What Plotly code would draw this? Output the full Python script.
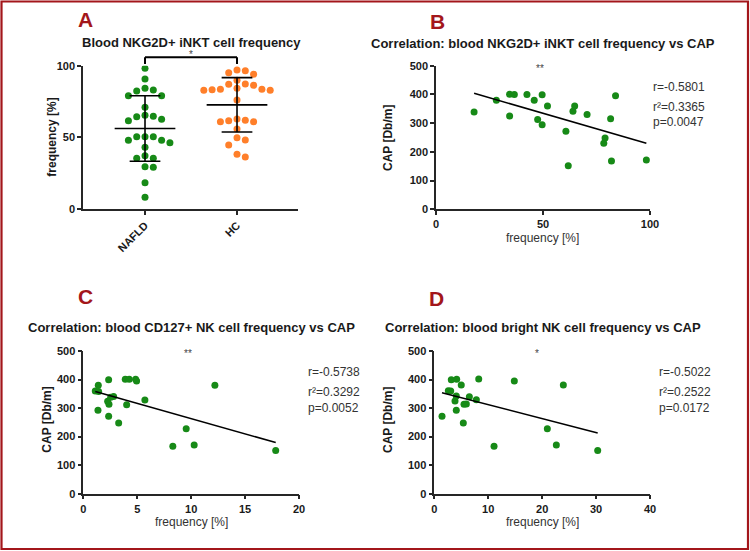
import numpy as np
import plotly.graph_objects as go

W, H = 750, 551

# ---------------- data ----------------
groups = ["NAFLD", "HC"]
nafld_freq = [98.2, 90.7, 84.2, 82.3, 83.0, 79.1, 79.1, 71.0, 65.4, 64.4, 64.7, 62.6, 61.6,
              50.5, 50.5, 50.5, 47.9, 47.9, 46.3, 43.1, 35.4, 35.4, 37.2, 29.1, 29.5, 18.4, 8.2]
hc_freq = [97.0, 96.5, 95.1, 94.0, 89.8, 87.0, 87.2, 86.3, 84.2, 83.5, 82.8, 82.8, 83.2, 83.5,
           76.1, 61.9, 60.9, 61.6, 60.9, 62.8, 55.8, 48.1, 49.8, 44.7, 38.2, 36.3]

b_freq = [17.8, 28.2, 34.4, 36.6, 34.4, 42.5, 45.9, 49.6, 47.5, 49.6, 52.1, 64.0, 64.8, 60.7,
          61.8, 70.6, 79.0, 78.4, 81.6, 83.9, 82.0, 98.3]
b_cap = [339, 380, 401, 400, 325, 400, 380, 399, 313, 294, 360, 341, 360, 272,
         152, 330, 248, 230, 315, 395, 168, 172]

c_freq = [1.39, 1.11, 1.42, 2.35, 1.36, 2.35, 3.28, 2.26, 2.38, 2.54, 2.81, 3.89, 4.26, 4.85,
          4.94, 4.02, 5.71, 12.2, 9.54, 8.3, 10.28, 17.84]
c_cap = [380, 360, 358, 399, 292, 271, 248, 324, 313, 338, 341, 401, 401, 401,
         395, 312, 328, 380, 228, 166, 171, 151]

d_freq = [1.43, 2.6, 3.04, 3.15, 4.15, 5.0, 4.08, 3.84, 4.08, 5.38, 5.51, 5.94, 6.5, 7.8,
          8.24, 11.08, 14.84, 23.93, 20.96, 22.63, 30.3]
d_cap = [271, 361, 360, 399, 401, 381, 342, 325, 292, 248, 313, 314, 340, 329,
         402, 166, 395, 381, 228, 171, 151]

# linear regression fits (slope, intercept) as shown on the chart
b_fit = (-2.16, 442.3)
c_fit = (-10.72, 370.3)
d_fit = (-4.884, 361.0)

b_stats = ["r=-0.5801", "r²=0.3365", "p=0.0047"]
c_stats = ["r=-0.5738", "r²=0.3292", "p=0.0052"]
d_stats = ["r=-0.5022", "r²=0.2522", "p=0.0172"]

# ---------------- styling ----------------
GREEN = "#178a17"
ORANGE = "#ff7f2a"
RED = "#a3161b"
AX = "#262626"
FONT = "Liberation Sans"


def P(px, py):
    return px / W, 1 - py / H


def swarm(vals, ppu_y, ppu_x, diam=7.5, step=8.3):
    vals = np.asarray(vals, float)
    order = np.argsort(-vals, kind="stable")
    placed = []
    offs = np.zeros(len(vals))
    cands = [0.0]
    for m in range(1, 12):
        cands += [m * step, -m * step]
    for i in order:
        yp = vals[i] * ppu_y
        chosen = cands[-1]
        for c in cands:
            if all((c - qx) ** 2 + (yp - qy) ** 2 >= diam ** 2 for qx, qy in placed):
                chosen = c
                break
        placed.append((chosen, yp))
        offs[i] = chosen / ppu_x
    return offs


fig = go.Figure()

# domains (pixel based)
domA = dict(x=[83 / W, 298 / W], y=[1 - 209 / H, 1 - 65.7 / H])
domB = dict(x=[436 / W, 650 / W], y=[1 - 209.3 / H, 1 - 65.7 / H])
domC = dict(x=[83.3 / W, 299 / W], y=[1 - 493.7 / H, 1 - 351 / H])
domD = dict(x=[434.3 / W, 650 / W], y=[1 - 493.7 / H, 1 - 351 / H])

# ---- Panel A ----
ppu_y = (209 - 65.7) / 100.0
ppu_x = 92.0
for gi, (vals, col) in enumerate([(nafld_freq, GREEN), (hc_freq, ORANGE)]):
    offs = swarm(vals, ppu_y, ppu_x)
    fig.add_trace(go.Scatter(x=gi + offs, y=vals, mode="markers",
                             marker=dict(color=col, size=7, line=dict(width=0)),
                             xaxis="x", yaxis="y", showlegend=False, hoverinfo="skip"))
    m = float(np.mean(vals))
    s = float(np.std(vals, ddof=1))
    lw = dict(color="black", width=1.6)
    fig.add_shape(type="line", xref="x", yref="y", x0=gi - 0.33, x1=gi + 0.33, y0=m, y1=m, line=lw)
    fig.add_shape(type="line", xref="x", yref="y", x0=gi - 0.167, x1=gi + 0.167, y0=m + s, y1=m + s, line=lw)
    fig.add_shape(type="line", xref="x", yref="y", x0=gi - 0.167, x1=gi + 0.167, y0=m - s, y1=m - s, line=lw)
    fig.add_shape(type="line", xref="x", yref="y", x0=gi, x1=gi, y0=m - s, y1=m + s, line=lw)

# significance bracket
br = dict(color="black", width=2)
fig.add_shape(type="line", xref="x", yref="y domain", x0=0, x1=1, y0=1.059, y1=1.059, line=br)
fig.add_shape(type="line", xref="x", yref="y domain", x0=0, x1=0, y0=1.059, y1=1.012, line=br)
fig.add_shape(type="line", xref="x", yref="y domain", x0=1, x1=1, y0=1.059, y1=1.012, line=br)

# ---- Panels B, C, D ----
def scatter_panel(xs, ys, fit, xa, ya):
    fig.add_trace(go.Scatter(x=xs, y=ys, mode="markers",
                             marker=dict(color=GREEN, size=7, line=dict(width=0)),
                             xaxis=xa, yaxis=ya, showlegend=False, hoverinfo="skip"))
    x0, x1 = min(xs), max(xs)
    fig.add_trace(go.Scatter(x=[x0, x1], y=[fit[0] * x0 + fit[1], fit[0] * x1 + fit[1]],
                             mode="lines", line=dict(color="black", width=1.6),
                             xaxis=xa, yaxis=ya, showlegend=False, hoverinfo="skip"))


scatter_panel(b_freq, b_cap, b_fit, "x2", "y2")
scatter_panel(c_freq, c_cap, c_fit, "x3", "y3")
scatter_panel(d_freq, d_cap, d_fit, "x4", "y4")

axis_common = dict(showline=True, linecolor=AX, linewidth=1.5, ticks="outside", ticklen=4,
                   tickwidth=1.5, tickcolor=AX, showgrid=False, zeroline=False,
                   automargin=False,
                   tickfont=dict(family=FONT, size=11, color="#1a1a1a", weight="bold"),
                   fixedrange=True)

fig.update_layout(
    width=W, height=H, autosize=False,
    margin=dict(l=0, r=0, t=0, b=0, pad=0, autoexpand=False),
    paper_bgcolor="white", plot_bgcolor="white",
    font=dict(family=FONT),
    xaxis=dict(domain=domA["x"], anchor="y", range=[-0.674, 1.663], tickvals=[0, 1],
               ticktext=groups, tickangle=-45, **axis_common),
    yaxis=dict(domain=domA["y"], anchor="x", range=[0, 100], tickvals=[0, 50, 100], **axis_common),
    xaxis2=dict(domain=domB["x"], anchor="y2", range=[0, 100], tickvals=[0, 50, 100], **axis_common),
    yaxis2=dict(domain=domB["y"], anchor="x2", range=[0, 500], dtick=100, **axis_common),
    xaxis3=dict(domain=domC["x"], anchor="y3", range=[0, 20], dtick=5, **axis_common),
    yaxis3=dict(domain=domC["y"], anchor="x3", range=[0, 500], dtick=100, **axis_common),
    xaxis4=dict(domain=domD["x"], anchor="y4", range=[0, 40], dtick=10, **axis_common),
    yaxis4=dict(domain=domD["y"], anchor="x4", range=[0, 500], dtick=100, **axis_common),
)

ann = []


def text(px, py, t, size=12, bold=False, color="#1a1a1a", angle=0, xanchor="center"):
    x, y = P(px, py)
    ann.append(dict(x=x, y=y, xref="paper", yref="paper", text=t, showarrow=False,
                    xanchor=xanchor, yanchor="middle", textangle=angle,
                    font=dict(family=FONT, size=size, color=color,
                              weight="bold" if bold else "normal")))


# panel letters
text(85, 20, "A", size=21, bold=True, color=RED)
text(437.5, 22, "B", size=21, bold=True, color=RED)
text(85, 296, "C", size=21, bold=True, color=RED)
text(436.5, 299, "D", size=21, bold=True, color=RED)

# titles
text(191, 42.7, "Blood NKG2D+ iNKT cell frequency", size=13, bold=True)
text(542.5, 43.3, "Correlation: blood NKG2D+ iNKT cell frequency vs CAP", size=13, bold=True)
text(191.5, 327.7, "Correlation: blood CD127+ NK cell frequency vs CAP", size=13, bold=True)
text(542.5, 327, "Correlation: blood bright NK cell frequency vs CAP", size=13, bold=True)

# axis titles
text(51.7, 137, "frequency [%]", size=12, bold=True, angle=-90)
text(388, 138, "CAP [Db/m]", size=12, bold=True, angle=-90)
text(542.8, 238.3, "frequency [%]", size=12, color="#333333")
text(46.7, 420, "CAP [Db/m]", size=12, bold=True, angle=-90)
text(191.7, 522, "frequency [%]", size=12, color="#333333")
text(388, 420, "CAP [Db/m]", size=12, bold=True, angle=-90)
text(542, 522, "frequency [%]", size=12, color="#333333")

# stats
for (px, ys, lines) in [(651, [87.3, 107.3, 122], b_stats),
                        (306, [372.3, 392.3, 408], c_stats),
                        (656.7, [372, 392, 408], d_stats)]:
    for yy, t in zip(ys, lines):
        text(px, yy, t, size=12, color="#333333", xanchor="left")

# significance stars
for xr, xv, py, t in [("x", 0.5, 54.5, "*"), ("x2", 48.6, 68.5, "**"),
                      ("x3", 9.7, 353.5, "**"), ("x4", 19.1, 353, "*")]:
    ann.append(dict(x=xv, y=1 - py / H, xref=xr, yref="paper", text=t, showarrow=False,
                    xanchor="center", yanchor="middle",
                    font=dict(family=FONT, size=10, color="#444444")))

fig.update_layout(annotations=ann)

# red frame
fig.add_shape(type="rect", xref="paper", yref="paper", x0=1.5 / W, x1=748 / W,
              y0=1 - 549 / H, y1=1 - 1.5 / H, line=dict(color=RED, width=2.2), layer="above")

css_js = (
    "var st=document.createElement('style');"
    "st.textContent='html,body{margin:0!important;padding:0!important;overflow:hidden!important;"
    "background:white;}';"
    "document.head.appendChild(st);"
    "window.scrollTo(0,0);"
)

fig.write_html("out.html", config={"displayModeBar": False, "responsive": False},
               post_script=css_js)
